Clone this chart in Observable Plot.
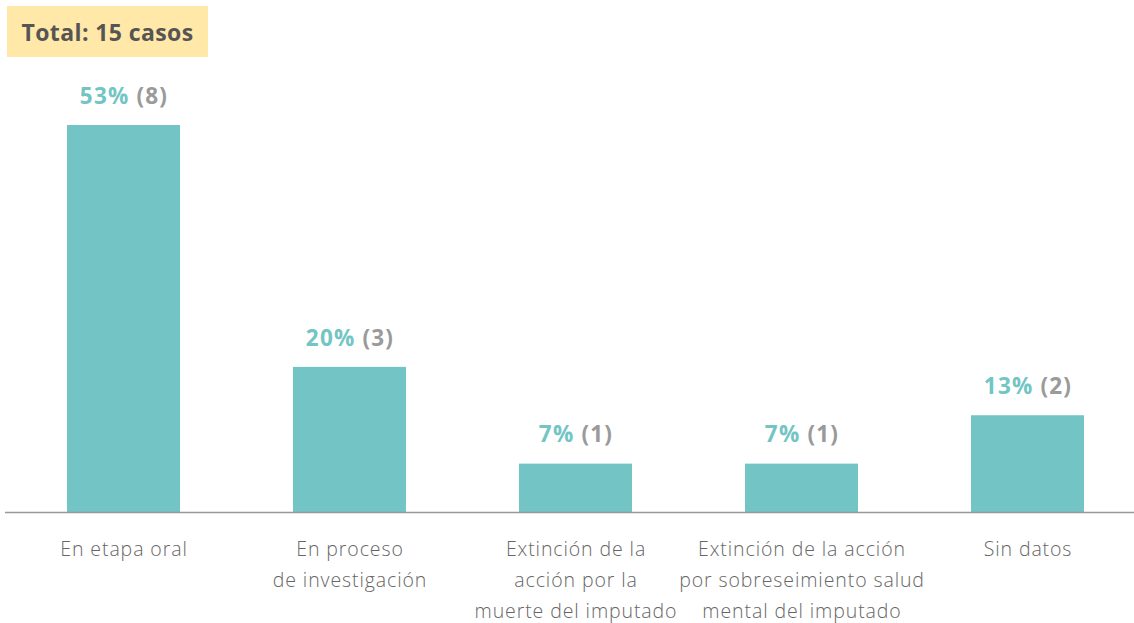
<!DOCTYPE html>
<html>
<head>
<meta charset="utf-8">
<script src="https://cdn.jsdelivr.net/npm/d3@7"></script>
<script src="https://cdn.jsdelivr.net/npm/@observablehq/plot@0.6"></script>
<style>
  html, body { margin: 0; padding: 0; background: #fff; }
  body { width: 1134px; height: 623px; overflow: hidden; font-family: "Open Sans", sans-serif; }
  #title { position: relative; height: 60px; }
  #title span {
    position: absolute; left: 7px; top: 6px; width: 201px; height: 51px;
    background: #FFE8A8; color: #555; font: 700 23px "Open Sans", sans-serif; letter-spacing: 0.4px;
    display: flex; align-items: center; justify-content: center;
  }
</style>
</head>
<body>
<div id="title"><span>Total: 15 casos</span></div>
<div id="chart"></div>
<script>
const categories = [
  "En etapa oral",
  "En proceso\nde investigación",
  "Extinción de la\nacción por la\nmuerte del imputado",
  "Extinción de la acción\npor sobreseimiento salud\nmental del imputado",
  "Sin datos"
];
const counts = [8, 3, 1, 1, 2];
const percents = [53, 20, 7, 7, 13];

const data = categories.map((c, i) => ({category: c, count: counts[i], pct: percents[i]}));

const chart = Plot.plot({
  width: 1134,
  height: 563,
  marginLeft: 10,
  marginRight: -6,
  marginTop: 65,
  marginBottom: 111,
  x: {domain: categories, paddingInner: 0.5, paddingOuter: 0.25, label: null},
  y: {domain: [0, 8], axis: null},
  style: {fontFamily: "'Open Sans', sans-serif", background: "transparent"},
  marks: [
    Plot.barY(data, {x: "category", y: "count", fill: "#72C5C4"}),
    Plot.ruleY([0], {stroke: "#999", strokeWidth: 1.5, insetLeft: -5}),
    Plot.text(data, {x: "category", y: "count", text: d => `${d.pct}% (${d.count})`, dy: -29, fontSize: 22.5, fontWeight: 700, fill: "#72C5C4", lineAnchor: "middle"}),
    Plot.axisX({tickSize: 0, tickPadding: 21, fontSize: 19.5, lineHeight: 1.6, fill: "#666", fontWeight: 300})
  ]
});

// color the count part of each value label gray
d3.select(chart).selectAll("g[aria-label='text'] text").each(function() {
  const t = d3.select(this);
  const s = t.text();
  const i = s.indexOf(" ");
  if (i < 0) return;
  t.text(null).style("letter-spacing", "1.2px");
  t.append("tspan").attr("fill", "#72C5C4").text(s.slice(0, i + 1));
  t.append("tspan").attr("fill", "#9A9A9A").text(s.slice(i + 1));
});
d3.select(chart).selectAll("g[aria-label='x-axis tick label'] text").style("letter-spacing", "0.9px");

document.getElementById("chart").append(chart);
</script>
</body>
</html>
